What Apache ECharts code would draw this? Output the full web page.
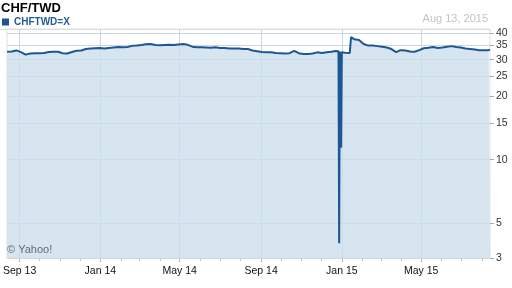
<!DOCTYPE html>
<html><head><meta charset="utf-8">
<script src="https://cdn.jsdelivr.net/npm/echarts@6/dist/echarts.min.js"></script>
<style>html,body{margin:0;padding:0;background:#fff}#c{width:512px;height:288px}</style>
</head><body><div id="c"></div>
<script>
const chartTitle = 'CHF/TWD';
const seriesName = 'CHFTWD=X';
const dateText = 'Aug 13, 2015';
const creditText = '\u00A9 Yahoo!';

const weekStart = '2013-08-13';
const weeklyRates = [
  32.7, 32.8, 33.2, 32.6, 31.7, 32.1, 32.2, 32.2, 32.3, 32.6,
  32.7, 32.7, 32.2, 32.1, 32.6, 33.1, 33.2, 33.7, 33.9, 34.0,
  34.1, 33.9, 34.1, 34.3, 34.5, 34.4, 34.5, 34.9, 35.0, 35.2,
  35.5, 35.6, 35.2, 35.1, 35.2, 35.3, 35.2, 35.4, 35.6, 35.3,
  34.6, 34.4, 34.4, 34.3, 34.2, 34.4, 34.1, 34.1, 33.9, 33.9,
  33.9, 33.7, 33.7, 33.2, 32.9, 32.6, 32.5, 32.5, 32.3, 32.2,
  32.1, 32.2, 33.0, 32.2, 31.9, 31.9, 32.1, 32.5, 32.3, 32.5,
  32.7, 33.0, 32.8, 32.4, 32.3, 37.5, 37.2, 35.6, 35.0, 35.0,
  34.8, 34.6, 34.3, 33.7, 32.6, 33.3, 33.2, 32.8, 32.7, 33.3,
  34.0, 34.2, 34.5, 34.1, 34.3, 34.6, 34.8, 34.5, 34.3, 33.9,
  33.7, 33.5, 33.3, 33.3, 33.3
];
const extraDates = ['2014-12-27','2014-12-28','2014-12-29','2014-12-31','2015-01-01','2015-01-14','2015-01-15','2015-01-16','2015-08-13'];
const extraRates = [32.9, 4.0, 32.8, 11.4, 32.5, 32.3, 38.4, 38.0, 33.5];

const xMin = '2013-08-13';
const xMax = '2015-08-13';
const xTickDates = ['2013-09-01','2014-01-01','2014-05-01','2014-09-01','2015-01-01','2015-05-01'];
const xTickLabels = ['Sep 13','Jan 14','May 14','Sep 14','Jan 15','May 15'];
const monthTicks = ['2013-09-01','2013-10-01','2013-11-01','2013-12-01','2014-01-01','2014-02-01','2014-03-01','2014-04-01','2014-05-01','2014-06-01','2014-07-01','2014-08-01','2014-09-01','2014-10-01','2014-11-01','2014-12-01','2015-01-01','2015-02-01','2015-03-01','2015-04-01','2015-05-01','2015-06-01','2015-07-01','2015-08-01'];

const yMin = 3.4;
const yMax = 42;
const yTickValues = [3.4, 5, 10, 15, 20, 25, 30, 35, 40];
const yTickLabels = ['3', '5', '10', '15', '20', '25', '30', '35', '40'];

const DAY = 86400000;
const toTime = s => Date.parse(s + 'T00:00:00Z');
const pts = [];
const t0 = toTime(weekStart);
weeklyRates.forEach((v, i) => pts.push([t0 + i * 7 * DAY, v]));
extraDates.forEach((d, i) => pts.push([toTime(d), extraRates[i]]));
pts.sort((a, b) => a[0] - b[0]);

const xTickTimes = xTickDates.map(toTime);
const monthTickTimes = monthTicks.map(toTime);
const lnTicks = yTickValues.map(v => Math.log(v));
const FONT = "'Liberation Sans', Arial, sans-serif";
const gridColor = 'rgb(200,214,228)';

const chart = echarts.init(document.getElementById('c'), null, {renderer: 'canvas'});
chart.setOption({
  animation: false,
  backgroundColor: '#fff',
  textStyle: {fontFamily: FONT},
  title: {
    text: chartTitle, left: 1, top: 2, padding: 0,
    textStyle: {fontSize: 13, fontWeight: 'bold', color: '#000', fontFamily: FONT}
  },
  legend: {
    data: [seriesName], left: 2, top: 17, padding: 0,
    icon: 'rect', itemWidth: 7, itemHeight: 7,
    textStyle: {color: '#235b97', fontWeight: 'bold', fontSize: 10, fontFamily: FONT}
  },
  graphic: [
    {type: 'text', right: 24, top: 13, style: {text: dateText, fill: '#c3c3c3', fontSize: 11, fontFamily: FONT}},
    {type: 'text', left: 7, top: 244, z: 100, style: {text: creditText, fill: '#6b6b6b', fontSize: 11, fontFamily: FONT}},
    {type: 'line', shape: {x1: 0, y1: 29.5, x2: 490, y2: 29.5}, style: {stroke: '#dcdcdc', lineWidth: 1}, z: 100}
  ],
  grid: {left: 1, right: 22, top: 29, bottom: 30, show: true, borderColor: '#e2e2e2', borderWidth: 1},
  xAxis: [
    {
      type: 'value', min: toTime(xMin), max: toTime(xMax), position: 'bottom',
      axisLine: {show: true, lineStyle: {color: '#d8d8d8'}},
      axisTick: {show: true, customValues: xTickTimes, length: 4, lineStyle: {color: '#9a9a9a'}},
      axisLabel: {
        customValues: xTickTimes, margin: 8, color: '#111', fontSize: 10.5, fontFamily: FONT, hideOverlap: false,
        showMinLabel: true, showMaxLabel: true,
        formatter: v => { const i = xTickTimes.findIndex(t => Math.abs(t - v) < DAY / 2); return i >= 0 ? xTickLabels[i] : ''; }
      },
      splitLine: {show: true, lineStyle: {color: gridColor, width: 1}}
    },
    {
      type: 'value', min: toTime(xMin), max: toTime(xMax), position: 'bottom',
      axisLine: {show: false},
      axisTick: {show: true, customValues: monthTickTimes, length: 3, lineStyle: {color: '#c4c4c4'}},
      axisLabel: {show: false},
      splitLine: {show: false}
    }
  ],
  yAxis: [
    {type: 'log', logBase: 10, min: yMin, max: yMax, show: false},
    {
      type: 'value', position: 'right', min: Math.log(yMin), max: Math.log(yMax),
      axisLine: {show: false},
      axisTick: {show: true, customValues: lnTicks, length: 4, lineStyle: {color: '#aaaaaa'}},
      axisLabel: {
        customValues: lnTicks, margin: 6, color: '#333', fontSize: 10.5, fontFamily: FONT, hideOverlap: false,
        formatter: v => { const i = lnTicks.findIndex(t => Math.abs(t - v) < 1e-6); return i >= 0 ? yTickLabels[i] : ''; }
      },
      splitLine: {show: true, lineStyle: {color: gridColor, width: 1}}
    }
  ],
  series: [{
    name: seriesName, type: 'line', xAxisIndex: 0, yAxisIndex: 0,
    data: pts, showSymbol: false, symbol: 'none', clip: true,
    itemStyle: {color: '#1c5693'},
    lineStyle: {color: '#1c5693', width: 2},
    areaStyle: {color: 'rgba(204,222,236,0.8)', opacity: 1, origin: 'start'}
  }]
});
</script>
</body></html>
